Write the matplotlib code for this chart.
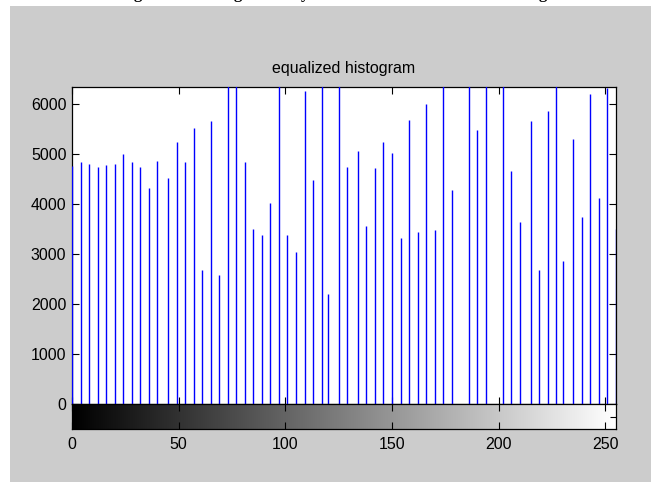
#!/usr/bin/env python3
"""Equalized histogram (MATLAB imhist style) with a grey-level bar underneath."""
import matplotlib
matplotlib.use("Agg")
import matplotlib.pyplot as plt
from matplotlib.patches import Rectangle
import numpy as np

OUT_PATH = "out.png"

# grey level -> pixel count (values above the y limit are clipped in the plot)
LEVELS = [0, 4, 8, 12, 16, 20, 24, 28, 32, 36, 40, 45, 49, 53, 57, 61, 65, 69,
          73, 77, 81, 85, 89, 93, 97, 101, 105, 109, 113, 117, 120, 125, 129,
          134, 138, 142, 146, 150, 154, 158, 162, 166, 170, 174, 178, 186, 190,
          194, 202, 206, 210, 215, 219, 223, 227, 230, 235, 239, 243, 247, 251,
          255]
COUNTS = [4760, 4850, 4810, 4750, 4780, 4810, 5000, 4850, 4750, 4320, 4870,
          4530, 5250, 4850, 5520, 2680, 5670, 2590, 6900, 7400, 4850, 3510,
          3390, 4030, 6800, 3390, 3050, 6260, 4480, 6600, 2210, 7100, 4750,
          5060, 3570, 4720, 5250, 5030, 3330, 5680, 3450, 6010, 3480, 6700,
          4290, 6900, 5490, 6500, 7200, 4660, 3640, 5670, 2680, 5860, 6800,
          2870, 5310, 3740, 6200, 4130, 6330, 3500]

Y_MAX = 6346
Y_TICKS = [0, 1000, 2000, 3000, 4000, 5000, 6000]
X_TICKS = [0, 50, 100, 150, 200, 250]
TITLE = "equalized histogram"

W, H = 651, 482
BG = "#cccccc"


def fx(px):
    return px / W


def fy(py):
    return 1 - py / H


def main():
    plt.rcParams["font.family"] = ["Liberation Sans", "DejaVu Sans"]
    fig = plt.figure(figsize=(W / 100, H / 100), dpi=100)
    fig.patch.set_facecolor("white")
    fig.patches.append(Rectangle((fx(10), 0), 1 - fx(10), fy(6), transform=fig.transFigure,
                                 facecolor=BG, edgecolor="none", zorder=-10))

    # bits of a caption cut off at the top edge (only descenders show)
    for px, ch in [(138, "g"), (238, "g"), (305, "y"), (543, "g")]:
        fig.text(fx(px), 1.0 + 1.5 / H, ch, ha="center", va="baseline", fontsize=12,
                 family="Liberation Serif", fontweight="bold", color="black")

    left, right = fx(72), fx(616)
    ax = fig.add_axes([left, fy(404), right - left, fy(87) - fy(404)])
    cax = fig.add_axes([left, fy(429), right - left, fy(404) - fy(429)])

    ax.vlines(LEVELS, 0, COUNTS, colors="blue", linewidth=1.0, zorder=3)
    ax.set_xlim(0, 255)
    ax.set_ylim(0, Y_MAX)
    ax.set_yticks(Y_TICKS)
    ax.set_xticks(X_TICKS)
    ax.tick_params(axis="y", direction="in", length=5, width=0.8, right=True,
                   labelsize=11.5, pad=4)
    ax.tick_params(axis="x", direction="in", length=5, width=0.8, top=True,
                   labelbottom=False)
    ax.set_title(TITLE, fontsize=11.5, pad=10)
    for s in ax.spines.values():
        s.set_linewidth(0.9)

    grad = np.linspace(0, 255, 256)[None, :]
    cax.imshow(grad, cmap="gray", aspect="auto", extent=(0, 255, 0, 1),
               interpolation="bilinear")
    cax.set_xlim(0, 255)
    cax.set_ylim(0, 1)
    cax.set_xticks(X_TICKS)
    cax.tick_params(axis="x", direction="in", length=5, width=0.8, top=True,
                    labelsize=11.5, pad=6)
    cax.set_yticks([0.5])
    cax.tick_params(axis="y", direction="in", length=4, width=0.8, left=False,
                    right=True, labelleft=False)
    for s in cax.spines.values():
        s.set_linewidth(0.9)

    fig.savefig(OUT_PATH, dpi=100, facecolor=fig.get_facecolor())
    print(f"wrote {OUT_PATH}")


if __name__ == "__main__":
    main()
